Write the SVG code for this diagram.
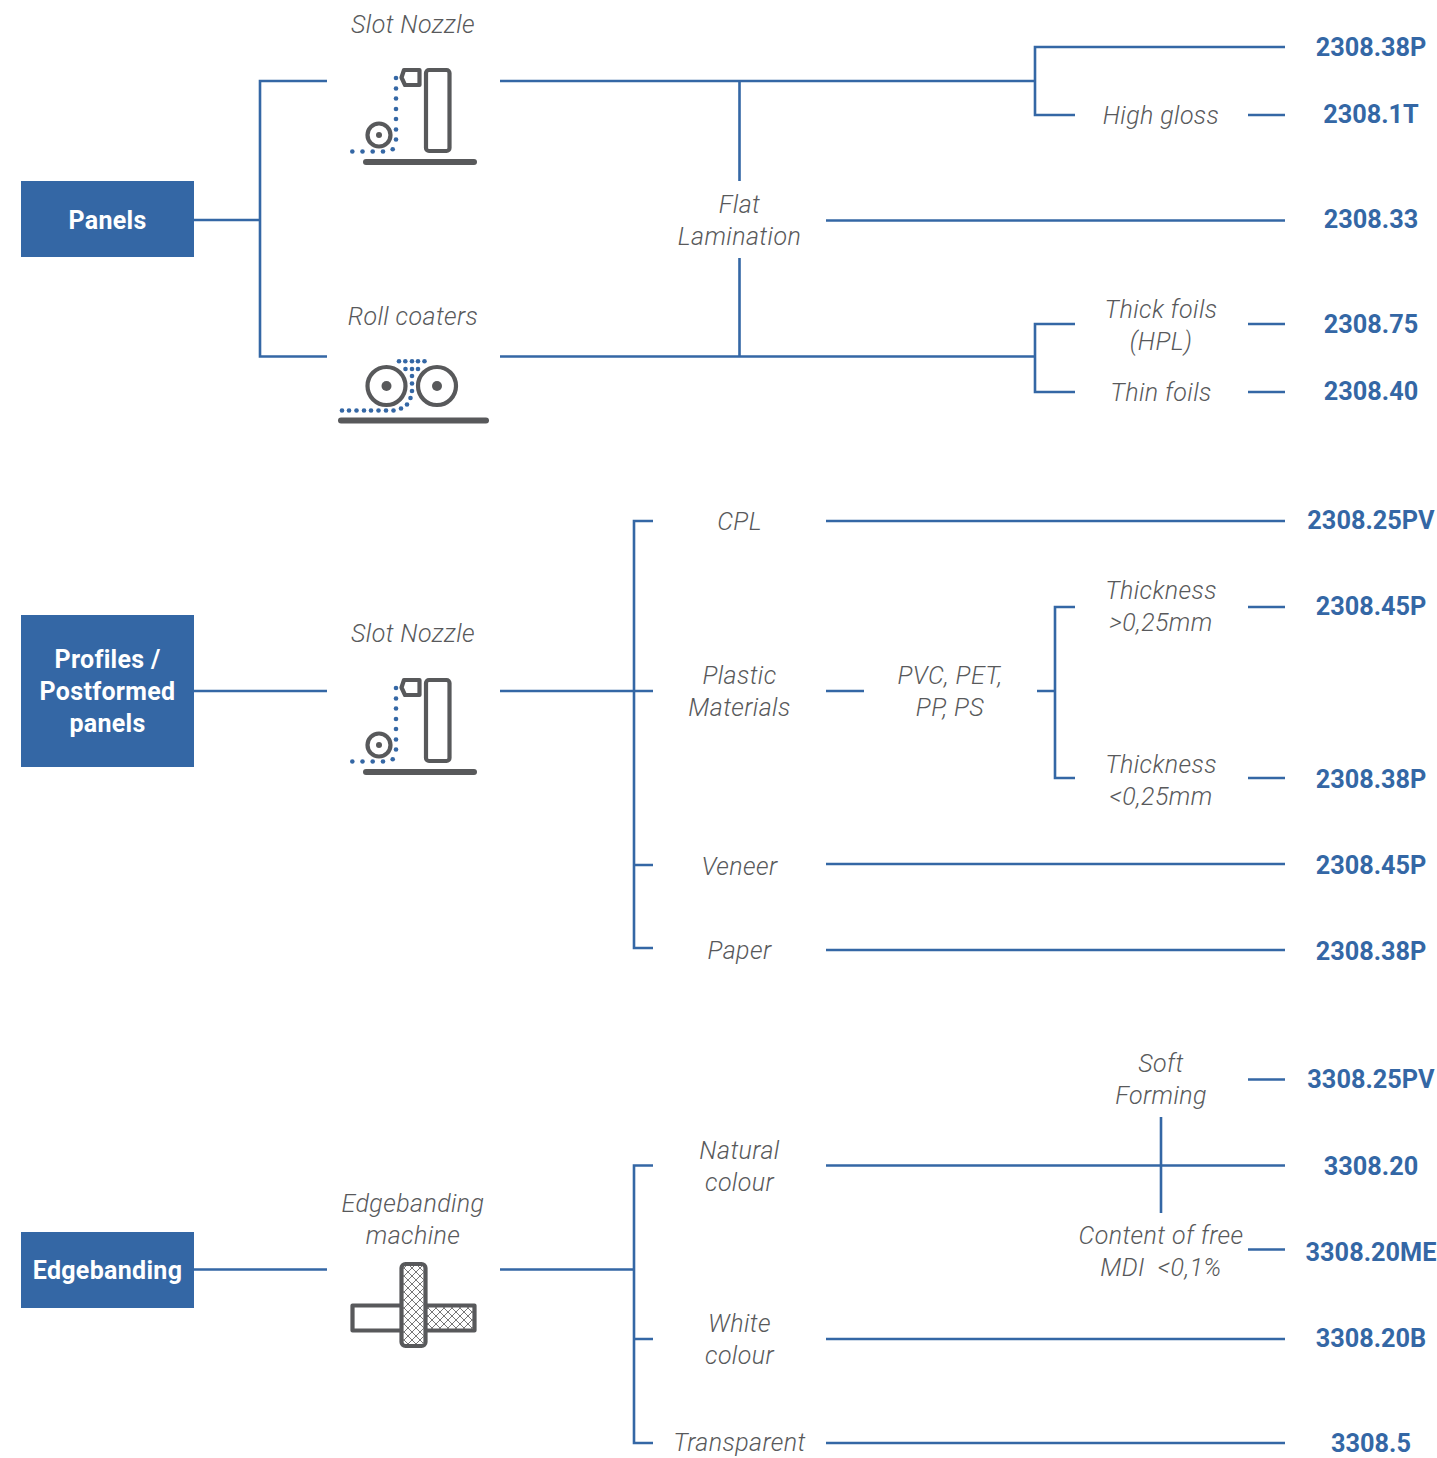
<svg xmlns="http://www.w3.org/2000/svg" width="1437" height="1458" viewBox="0 0 1437 1458">
<style>
.c{fill:none;stroke:#3467a5;stroke-width:2.6}
.b{fill:#3467a5}
.bt{font:700 25px Roboto,"Liberation Sans",sans-serif;fill:#fff;text-anchor:middle;letter-spacing:.3px}
.l{font:italic 300 25px Roboto,"Liberation Sans",sans-serif;fill:#58595b;text-anchor:middle;letter-spacing:.4px}
.k{font:700 25.3px Roboto,"Liberation Sans",sans-serif;fill:#3467a5;text-anchor:middle}
.i{fill:none;stroke:#58595b;stroke-width:4.2;stroke-linejoin:round}
.f{fill:#58595b}
.d{fill:#3467a5}
.d circle{r:2.300px}
</style>
<defs>
<pattern id="h" width="8" height="8" patternUnits="userSpaceOnUse"><path d="M0 0L8 8M8 0L0 8" stroke="#777" stroke-width="1" fill="none"/></pattern>
<g id="slot">
<rect class="i" x="426" y="70" width="23.500" height="81" rx="3"/>
<path class="i" d="M419.500 70H404L401.500 77.500L405 85H419.500Z"/>
<circle class="i" cx="379" cy="135" r="11.500"/><circle class="f" cx="379" cy="135" r="3"/>
<rect class="f" x="363" y="159" width="114" height="6" rx="3"/>
<g class="d"><circle cx="396" cy="78" r="2"/><circle cx="396" cy="88.500" r="2"/><circle cx="396" cy="98.500" r="2"/><circle cx="396" cy="109" r="2"/><circle cx="396" cy="119" r="2"/><circle cx="396" cy="129.500" r="2"/><circle cx="396" cy="139.500" r="2"/><circle cx="392.700" cy="149.300" r="2"/><circle cx="383" cy="151.500" r="2"/><circle cx="372.700" cy="151.500" r="2"/><circle cx="362.500" cy="151.500" r="2"/><circle cx="352.300" cy="151.500" r="2"/></g>
</g>
</defs>
<g id="connectors" class="c">
<path d="M194 220H260M327 81H260V356.500H327"/>
<path d="M500 81H1035M1285 47H1035V115H1075M1248 115H1285"/>
<path d="M739.500 81V181M739.500 258V356.500"/>
<path d="M826 220.500H1285"/>
<path d="M500 356.500H1035M1075 324H1035V392H1075M1248 324H1285M1248 392H1285"/>
<path d="M194 691H327M500 691H653M653 521H634V948H653M634 865H653"/>
<path d="M826 521H1285M826 691H864M1037 691H1055M1075 607H1055V778H1075M1248 607H1285M1248 778H1285"/>
<path d="M826 864H1285M826 950H1285"/>
<path d="M194 1269.500H327M500 1269.500H634M653 1165.500H634V1443H653M634 1339H653"/>
<path d="M826 1165.500H1285M1161 1117V1213M1248 1079.500H1285M1248 1249.500H1285"/>
<path d="M826 1339H1285M826 1443H1285"/>
</g>
<g id="panels"><rect class="b" x="21" y="181" width="173" height="76"/><text class="bt" x="107.500" y="229">Panels</text></g>
<g id="profiles"><rect class="b" x="21" y="615" width="173" height="152"/><text class="bt" x="107.500" y="668">Profiles /</text><text class="bt" x="107.500" y="700">Postformed</text><text class="bt" x="107.500" y="732">panels</text></g>
<g id="edgebanding"><rect class="b" x="21" y="1232" width="173" height="76"/><text class="bt" x="107.500" y="1279">Edgebanding</text></g>
<g id="slot-nozzle-1"><text class="l" x="413" y="33">Slot Nozzle</text><use href="#slot"/></g>
<g id="roll-coaters"><text class="l" x="413" y="325">Roll coaters</text>
<circle class="i" cx="386.500" cy="386" r="19"/><circle class="f" cx="386.500" cy="386" r="5"/><circle class="i" cx="437" cy="386" r="19"/><circle class="f" cx="437" cy="386" r="5"/>
<rect class="f" x="338" y="417.500" width="151" height="6" rx="3"/>
<g class="d"><circle cx="399" cy="361.300" r="2"/><circle cx="405.300" cy="361.300" r="2"/><circle cx="412" cy="361.300" r="2"/><circle cx="418" cy="361.300" r="2"/><circle cx="424.500" cy="361.300" r="2"/><circle cx="405.500" cy="369" r="2"/><circle cx="412" cy="369" r="2"/><circle cx="418" cy="369" r="2"/><circle cx="412" cy="376" r="2"/><circle cx="412" cy="383.500" r="2"/><circle cx="412" cy="391" r="2"/><circle cx="410.500" cy="398" r="2"/><circle cx="407" cy="404.500" r="2"/><circle cx="401" cy="408.500" r="2"/><circle cx="393.500" cy="410.500" r="2"/><circle cx="386" cy="410.500" r="2"/><circle cx="378.500" cy="410.500" r="2"/><circle cx="371" cy="410.500" r="2"/><circle cx="364" cy="410.500" r="2"/><circle cx="356.500" cy="410.500" r="2"/><circle cx="349" cy="410.500" r="2"/><circle cx="342" cy="410.500" r="2"/></g></g>
<g id="slot-nozzle-2"><text class="l" x="413" y="642">Slot Nozzle</text><use href="#slot" y="610"/></g>
<g id="edgebanding-machine"><text class="l" x="413" y="1212">Edgebanding</text><text class="l" x="413" y="1244">machine</text>
<rect class="i" x="352.500" y="1305.500" width="122" height="25"/><rect x="425" y="1307" width="48" height="22" fill="url(#h)"/>
<rect class="i" x="401.500" y="1264" width="24" height="82" rx="4" style="fill:#fff"/><rect x="403" y="1266" width="21" height="78" fill="url(#h)"/></g>
<g id="labels">
<text class="l" x="739.500" y="213">Flat</text><text class="l" x="739.500" y="245">Lamination</text>
<text class="l" x="1161" y="124">High gloss</text>
<text class="l" x="1161" y="318">Thick foils</text><text class="l" x="1161" y="350">(HPL)</text>
<text class="l" x="1161" y="401">Thin foils</text>
<text class="l" x="739.500" y="530">CPL</text>
<text class="l" x="739.500" y="684">Plastic</text><text class="l" x="739.500" y="716">Materials</text>
<text class="l" x="950" y="684">PVC, PET,</text><text class="l" x="950" y="716">PP, PS</text>
<text class="l" x="1161" y="599">Thickness</text><text class="l" x="1161" y="631">&gt;0,25mm</text>
<text class="l" x="1161" y="773">Thickness</text><text class="l" x="1161" y="805">&lt;0,25mm</text>
<text class="l" x="739.500" y="875">Veneer</text>
<text class="l" x="739.500" y="959">Paper</text>
<text class="l" x="1161" y="1072">Soft</text><text class="l" x="1161" y="1104">Forming</text>
<text class="l" x="739.500" y="1159">Natural</text><text class="l" x="739.500" y="1191">colour</text>
<text class="l" x="1161" y="1244">Content of free</text><text class="l" x="1161" y="1276" xml:space="preserve">MDI  &lt;0,1%</text>
<text class="l" x="739.500" y="1332">White</text><text class="l" x="739.500" y="1364">colour</text>
<text class="l" x="739.500" y="1451">Transparent</text>
</g>
<g id="codes">
<text class="k" x="1371" y="56">2308.38P</text>
<text class="k" x="1371" y="123">2308.1T</text>
<text class="k" x="1371" y="228">2308.33</text>
<text class="k" x="1371" y="333">2308.75</text>
<text class="k" x="1371" y="400">2308.40</text>
<text class="k" x="1371" y="529">2308.25PV</text>
<text class="k" x="1371" y="615">2308.45P</text>
<text class="k" x="1371" y="788">2308.38P</text>
<text class="k" x="1371" y="874">2308.45P</text>
<text class="k" x="1371" y="960">2308.38P</text>
<text class="k" x="1371" y="1088">3308.25PV</text>
<text class="k" x="1371" y="1175">3308.20</text>
<text class="k" x="1371" y="1261">3308.20ME</text>
<text class="k" x="1371" y="1347">3308.20B</text>
<text class="k" x="1371" y="1452">3308.5</text>
</g>
</svg>
